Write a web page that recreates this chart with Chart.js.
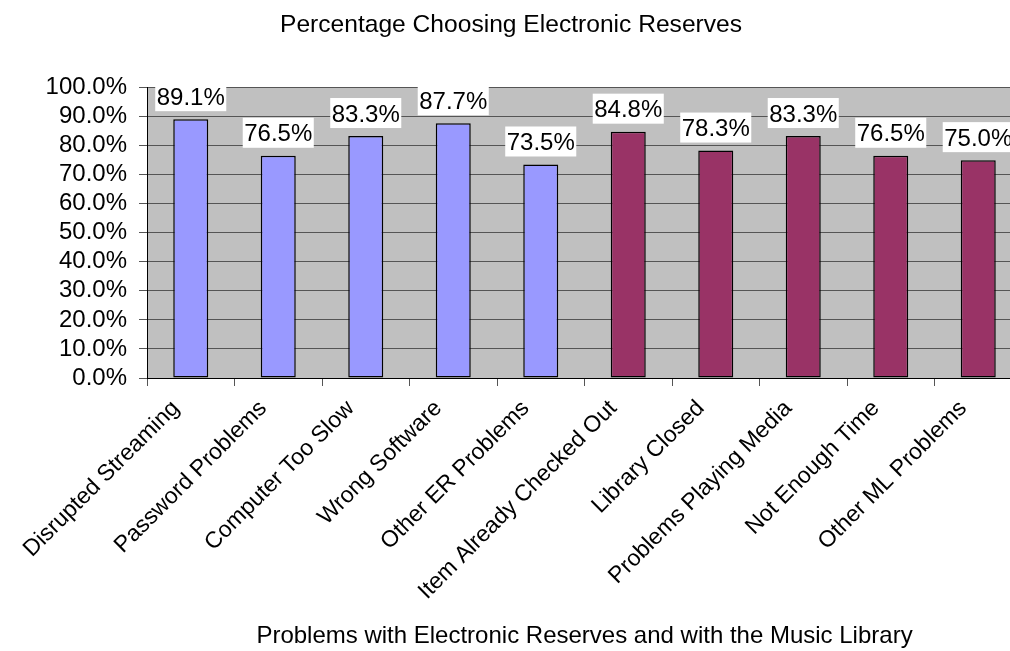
<!DOCTYPE html>
<html>
<head>
<meta charset="utf-8">
<script src="https://cdn.jsdelivr.net/npm/chart.js@4"></script>
<style>
  html, body { margin: 0; padding: 0; background: #fff; overflow: hidden; }
  #wrap { width: 1010px; height: 651px; overflow: hidden; }
</style>
</head>
<body>
<div id="wrap"><canvas id="chart" width="1022" height="651"></canvas></div>
<script>
// chart data
const categories = [
  'Disrupted Streaming', 'Password Problems', 'Computer Too Slow', 'Wrong Software',
  'Other ER Problems', 'Item Already Checked Out', 'Library Closed',
  'Problems Playing Media', 'Not Enough Time', 'Other ML Problems'
];
const percentChoosing = [89.1, 76.5, 83.3, 87.7, 73.5, 84.8, 78.3, 83.3, 76.5, 75.0];
// ER = electronic reserves, ML = music library
const problemGroup = ['ER', 'ER', 'ER', 'ER', 'ER', 'ML', 'ML', 'ML', 'ML', 'ML'];
const yTicks = [0, 10, 20, 30, 40, 50, 60, 70, 80, 90, 100];

const chartTitle = 'Percentage Choosing Electronic Reserves';
const xTitle = 'Problems with Electronic Reserves and with the Music Library';

const groupColors = { ER: '#9999FF', ML: '#993366' };
const FONT = '"Liberation Sans", Arial, sans-serif';

Chart.defaults.font.family = FONT;
Chart.defaults.font.size = 24;
Chart.defaults.color = '#000';

// gray plot area like the old excel charts
const plotBg = {
  id: 'plotBg',
  beforeDraw(chart) {
    const { ctx, chartArea: a } = chart;
    ctx.save();
    ctx.fillStyle = '#C0C0C0';
    ctx.fillRect(a.left, a.top, a.right - a.left, a.bottom - a.top);
    ctx.restore();
  }
};

// value labels on white boxes above each bar
const barLabels = {
  id: 'barLabels',
  afterDatasetsDraw(chart) {
    const ctx = chart.ctx;
    const meta = chart.getDatasetMeta(0);
    ctx.save();
    ctx.font = '24px ' + FONT;
    ctx.textAlign = 'center';
    ctx.textBaseline = 'alphabetic';
    meta.data.forEach((bar, i) => {
      const txt = percentChoosing[i].toFixed(1) + '%';
      const w = ctx.measureText(txt).width + 3;
      const bottom = bar.y - 8;
      ctx.fillStyle = '#fff';
      ctx.fillRect(bar.x - w / 2, bottom - 30, w, 30);
      ctx.fillStyle = '#000';
      ctx.fillText(txt, bar.x, bottom - 6.5);
    });
    ctx.restore();
  }
};

new Chart(document.getElementById('chart').getContext('2d'), {
  type: 'bar',
  data: {
    labels: categories,
    datasets: [{
      data: percentChoosing,
      backgroundColor: problemGroup.map(g => groupColors[g]),
      borderColor: '#000',
      borderWidth: 1.5,
      borderSkipped: false,
      categoryPercentage: 1,
      barPercentage: 0.4
    }]
  },
  options: {
    responsive: false,
    animation: false,
    layout: { padding: 0 },
    plugins: {
      legend: { display: false },
      tooltip: { enabled: false },
      title: {
        display: true,
        text: chartTitle,
        font: { size: 24.6, weight: 'normal' },
        padding: { top: 10, bottom: 48 }
      }
    },
    scales: {
      x: {
        offset: true,
        afterFit: s => { s.height = 273; },
        grid: { offset: true, drawOnChartArea: false, tickLength: 8, tickColor: '#555' },
        border: { color: '#000' },
        ticks: { autoSkip: false, minRotation: 45, maxRotation: 45, padding: 9, labelOffset: -15, font: { size: 23 } },
        title: { display: true, text: xTitle, padding: { top: 0, bottom: 0 } }
      },
      y: {
        min: 0,
        max: 100,
        afterFit: s => { s.width = 147; },
        afterBuildTicks: axis => { axis.ticks = yTicks.map(v => ({ value: v })); },
        ticks: { autoSkip: false, callback: v => v.toFixed(1) + '%', padding: 12 },
        grid: { color: '#555', tickLength: 8, tickColor: '#555' },
        border: { color: '#000' }
      }
    }
  },
  plugins: [plotBg, barLabels]
});
</script>
</body>
</html>
